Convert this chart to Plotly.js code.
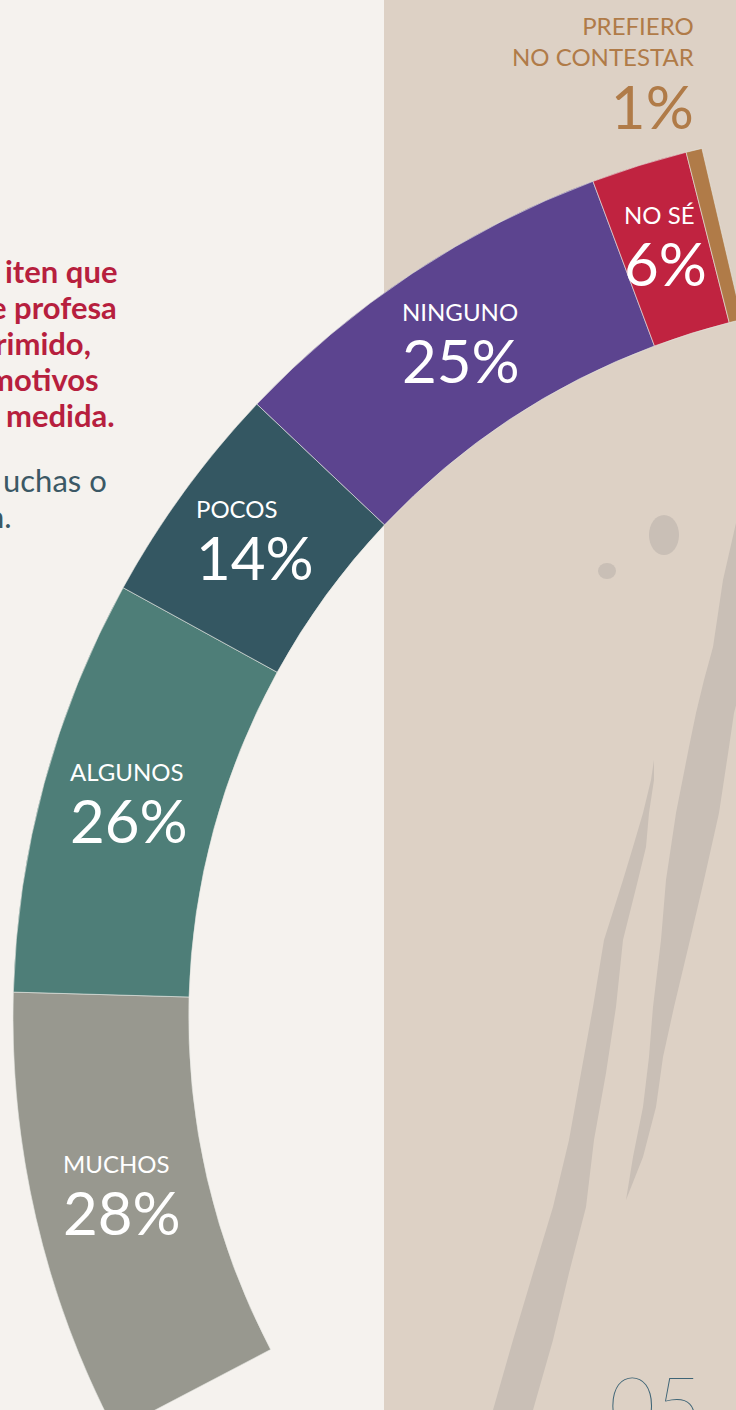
<!DOCTYPE html>
<html><head><meta charset="utf-8">
<script src="https://cdn.plot.ly/plotly-3.0.1.min.js"></script>
<style>
html,body{margin:0;padding:0;width:736px;height:1410px;overflow:hidden;background:#f5f2ee;}
#chart{position:absolute;left:0;top:0;}
</style>
</head><body><div id="chart"></div>
<script>
// ---- data ----
const categories = ['MUCHOS', 'ALGUNOS', 'POCOS', 'NINGUNO', 'NO SÉ', 'PREFIERO NO CONTESTAR'];
const values = [28, 26, 14, 25, 6, 1];
const sliceColors = ['#98988f', '#4e7e78', '#345762', '#5c448f', '#c02340', '#b07b48'];
const leadLines = ['iten que', 'e profesa', 'rimido,', 'motivos', 'medida.'];
const noteLines = ['uchas o', 'n.'];
const pageNumber = '05';

// ---- geometry (page pixels -> paper) ----
const L = 13, T = 125, S = 1784;           // plot area = square holding the full circle
const W = L + S, H = T + S;
const px = x => (x - L) / S;
const py = y => 1 - (y - T) / S;
const arcDeg = 104.5;                       // portion of the circle used by the arc
const startDeg = -117.66;                   // clockwise from 12 o'clock
const hole = 0.803;
const total = values.reduce((a, b) => a + b, 0);
const blank = total * (360 / arcDeg - 1);

const FONT = 'Lato, "Open Sans", sans-serif';

const pie = {
  type: 'pie',
  values: values.concat([blank]),
  labels: categories.concat(['']),
  sort: false,
  direction: 'clockwise',
  rotation: startDeg,
  hole: hole,
  textinfo: 'none',
  hoverinfo: 'skip',
  showlegend: false,
  domain: {x: [0, 1], y: [0, 1]},
  marker: {
    colors: sliceColors.concat(['rgba(0,0,0,0)']),
    line: {
      color: values.map(() => 'rgba(230,232,226,0.6)').concat(['rgba(0,0,0,0)']),
      width: values.map(() => 1).concat([0])
    }
  }
};

// ---- annotations ----
const annotations = [];
const grand = total + blank;
const rMid = 0.5 * (1 + hole) / 2;
let cum = 0;
values.forEach((v, i) => {
  const phi = (startDeg + 360 * (cum + v / 2) / grand) * Math.PI / 180;
  cum += v;
  if (i === values.length - 1) {
    annotations.push({
      xref: 'paper', yref: 'paper', x: px(694), y: py(11.3),
      xanchor: 'right', yanchor: 'top', align: 'right', showarrow: false,
      borderpad: 0, borderwidth: 0,
      text: categories[i].replace('PREFIERO ', 'PREFIERO<br>') +
            '<br><br><span style="font-size:60px">' + v + '%</span>',
      font: {family: FONT, size: 24, color: sliceColors[i]}
    });
    return;
  }
  annotations.push({
    xref: 'paper', yref: 'paper',
    x: 0.5 + rMid * Math.sin(phi), y: 0.5 + rMid * Math.cos(phi),
    xanchor: 'center', yanchor: 'middle', align: 'left', showarrow: false,
    borderpad: 0, borderwidth: 0,
    text: categories[i] + '<br><br><span style="font-size:60px">' + v + '%</span>',
    font: {family: FONT, size: 24, color: '#ffffff'}
  });
});

const leadRight = [117, 117, 90.5, 99, 115];
const leadBase = [283, 319, 355, 391, 427];
const LFS = 31;
leadLines.forEach((t, i) => annotations.push({
  xref: 'paper', yref: 'paper', x: px(leadRight[i]), y: py(leadBase[i] - 0.387 * LFS),
  xanchor: 'right', yanchor: 'middle', showarrow: false, borderpad: 0, borderwidth: 0,
  text: '<b>' + t + '</b>', font: {family: FONT, size: LFS, color: '#b71f3e'}
}));
const noteRight = [107, 12];
const noteBase = [492, 528];
noteLines.forEach((t, i) => annotations.push({
  xref: 'paper', yref: 'paper', x: px(noteRight[i]), y: py(noteBase[i] - 0.387 * LFS),
  xanchor: 'right', yanchor: 'middle', showarrow: false, borderpad: 0, borderwidth: 0,
  text: t, font: {family: FONT, size: LFS, color: '#3b5865'}
}));
annotations.push({
  xref: 'paper', yref: 'paper', x: px(609), y: py(1355),
  xanchor: 'left', yanchor: 'top', showarrow: false, borderpad: 0, borderwidth: 0,
  text: pageNumber, font: {family: FONT, size: 80, color: '#3e6476', weight: 100}
});

// ---- background decoration ----
function pathOf(pts) {
  return 'M' + pts.map(p => px(p[0]).toFixed(5) + ',' + py(p[1]).toFixed(5)).join(' L') + ' Z';
}
const streakA = [[740,515],[736,523],[723,580],[713,647],[704,680],[696,713],[689,747],[676,813],[666,880],[661,940],
                 [653,1007],[649,1057],[643,1107],[633,1157],[626,1200],
                 [643,1157],[656,1107],[663,1057],[674,1007],[690,940],[704,880],[719,813],[729,747],[734,713],[740,690]];
const streakB = [[654,760],[651,780],[643,813],[633,847],[623,880],[604,940],[593,1007],[581,1073],[569,1140],
                 [553,1207],[533,1273],[513,1340],[493,1410],[483,1440],
                 [525,1440],[533,1410],[553,1340],[569,1273],[586,1207],[594,1140],[606,1073],[616,1007],
                 [623,940],[638,880],[646,847],[649,813],[654,780]];
const shapes = [
  {type: 'rect', xref: 'paper', yref: 'paper', layer: 'below',
   x0: px(384), x1: px(800), y0: py(1500), y1: py(-40),
   fillcolor: '#ddd1c5', line: {width: 0}},
  {type: 'path', xref: 'paper', yref: 'paper', layer: 'below', path: pathOf(streakA),
   fillcolor: '#c9bfb6', line: {width: 0}},
  {type: 'path', xref: 'paper', yref: 'paper', layer: 'below', path: pathOf(streakB),
   fillcolor: '#c9bfb6', line: {width: 0}},
  {type: 'circle', xref: 'paper', yref: 'paper', layer: 'below',
   x0: px(649), x1: px(679), y0: py(555), y1: py(515), fillcolor: '#c9bfb6', line: {width: 0}},
  {type: 'circle', xref: 'paper', yref: 'paper', layer: 'below',
   x0: px(598), x1: px(616), y0: py(579), y1: py(563), fillcolor: '#c9bfb6', line: {width: 0}}
];

const layout = {
  width: W, height: H, autosize: false,
  margin: {l: L, r: 0, t: T, b: 0, pad: 0},
  paper_bgcolor: '#f5f2ee',
  showlegend: false,
  font: {family: FONT},
  shapes: shapes,
  annotations: annotations
};

Plotly.newPlot('chart', [pie], layout, {staticPlot: true, displayModeBar: false});
</script>
</body></html>
